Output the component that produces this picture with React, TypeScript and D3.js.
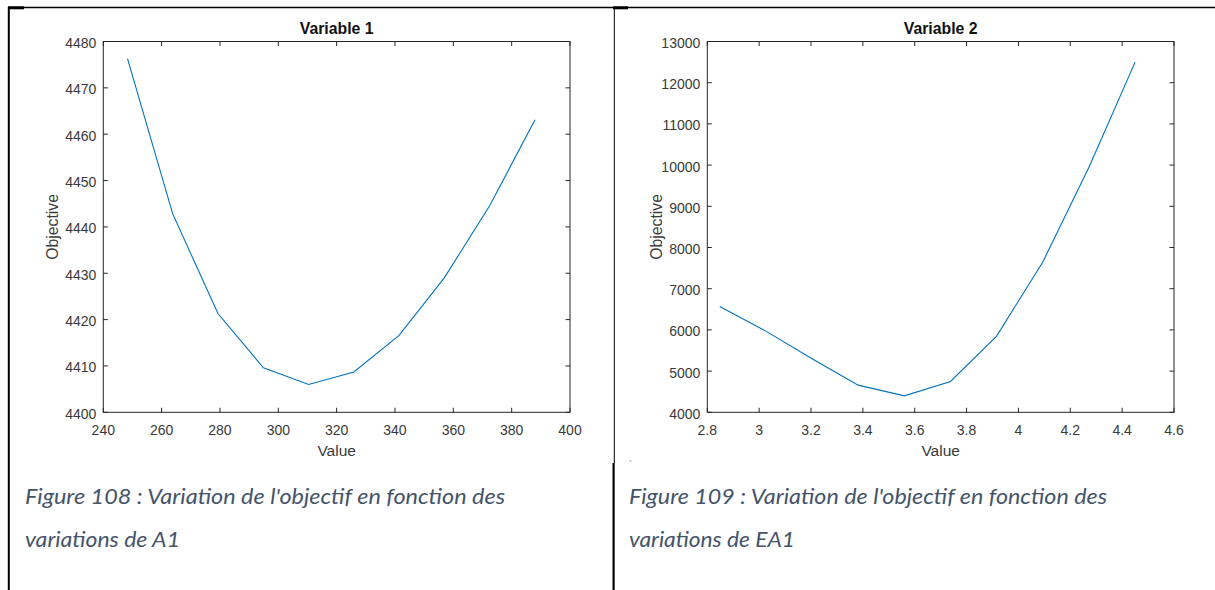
import React from "react";
import * as d3 from "d3";

// ---------- data ----------
const var1Values = [248.3, 263.8, 279.3, 294.9, 310.4, 325.9, 341.4, 356.9, 372.5, 388.0];
const var1Objective = [4476.3, 4442.8, 4421.3, 4409.6, 4406.0, 4408.7, 4416.6, 4429.0, 4444.6, 4463.1];
const var2Values = [2.848, 3.026, 3.204, 3.382, 3.56, 3.738, 3.916, 4.094, 4.272, 4.45];
const var2Objective = [6570, 5970, 5300, 4660, 4400, 4750, 5850, 7650, 9950, 12500];

const var1XTicks = [240, 260, 280, 300, 320, 340, 360, 380, 400];
const var1YTicks = [4400, 4410, 4420, 4430, 4440, 4450, 4460, 4470, 4480];
const var2XTicks = [2.8, 3, 3.2, 3.4, 3.6, 3.8, 4, 4.2, 4.4, 4.6];
const var2YTicks = [4000, 5000, 6000, 7000, 8000, 9000, 10000, 11000, 12000, 13000];

const titles = ["Variable 1", "Variable 2"];
const xLabel = "Value";
const yLabel = "Objective";
const captionLine1 = [
  "Figure 108 : Variation de l'objectif en fonction des",
  "Figure 109 : Variation de l'objectif en fonction des",
];
const captionLine2 = ["variations de A1", "variations de EA1"];

// ---------- layout ----------
const W = 1215;
const H = 590;
const AX = "#262626";
const TXT = "#3a3a3a";
const LINE = "#0072BD";
const CAP = "#44546A";
const FONT = "'Liberation Sans', Arial, Helvetica, sans-serif";

type PanelProps = {
  ox: number;
  xs: number[];
  ys: number[];
  xTicks: number[];
  yTicks: number[];
  title: string;
  cap1: string;
  cap2: string;
  cap1Len: number;
  cap2Len: number;
};

function Panel({ ox, xs, ys, xTicks, yTicks, title, cap1, cap2, cap1Len, cap2Len }: PanelProps) {
  const left = ox + 103.3;
  const right = ox + 570;
  const top = 41.5;
  const bottom = 412.3;
  const x = d3.scaleLinear().domain([xTicks[0], xTicks[xTicks.length - 1]]).range([left, right]);
  const y = d3.scaleLinear().domain([yTicks[0], yTicks[yTicks.length - 1]]).range([bottom, top]);
  const pts: [number, number][] = xs.map((v, i) => [v, ys[i]]);
  const path = d3
    .line<[number, number]>()
    .x((d) => x(d[0]))
    .y((d) => y(d[1]))(pts) as string;
  const tl = 4.5;
  const cx = (left + right) / 2;
  const cy = (top + bottom) / 2;
  return (
    <g>
      <text x={cx} y={34} textAnchor="middle" fontFamily={FONT} fontWeight="bold" fontSize={15.8} fill="#111">
        {title}
      </text>
      {/* ticks */}
      {xTicks.map((t, i) => (
        <g key={"xt" + i}>
          <line x1={x(t)} x2={x(t)} y1={bottom} y2={bottom - tl} stroke={AX} strokeWidth={1} />
          <line x1={x(t)} x2={x(t)} y1={top} y2={top + tl} stroke={AX} strokeWidth={1} />
          <text x={x(t)} y={434.5} textAnchor="middle" fontFamily={FONT} fontSize={14} fill={TXT}>
            {String(t)}
          </text>
        </g>
      ))}
      {yTicks.map((t, i) => (
        <g key={"yt" + i}>
          <line x1={left} x2={left + tl} y1={y(t)} y2={y(t)} stroke={AX} strokeWidth={1} />
          <line x1={right} x2={right - tl} y1={y(t)} y2={y(t)} stroke={AX} strokeWidth={1} />
          <text x={left - 7} y={y(t) + 6.5} textAnchor="end" fontFamily={FONT} fontSize={14} fill={TXT}>
            {String(t)}
          </text>
        </g>
      ))}
      <rect x={left} y={top} width={right - left} height={bottom - top} fill="none" stroke={AX} strokeWidth={1} />
      <path d={path} fill="none" stroke={LINE} strokeWidth={1.1} />
      <text x={cx} y={455.5} textAnchor="middle" fontFamily={FONT} fontSize={15.5} fill={TXT}>
        {xLabel}
      </text>
      <text
        transform={`translate(${ox + 57.5},${cy}) rotate(-90)`}
        textAnchor="middle"
        fontFamily={FONT}
        fontSize={15.8}
        fill={TXT}
      >
        {yLabel}
      </text>
      <text
        x={ox + 25}
        y={504}
        fontFamily="Lato, 'Open Sans', sans-serif"
        fontStyle="italic"
        fontSize={21}
        fill={CAP}
        textLength={cap1Len}
        lengthAdjust="spacingAndGlyphs"
      >
        {cap1}
      </text>
      <text
        x={ox + 25}
        y={547}
        fontFamily="Lato, 'Open Sans', sans-serif"
        fontStyle="italic"
        fontSize={21}
        fill={CAP}
        textLength={cap2Len}
        lengthAdjust="spacingAndGlyphs"
      >
        {cap2}
      </text>
    </g>
  );
}

export default function App() {
  return (
    <svg
      width={W}
      height={H}
      viewBox={`0 0 ${W} ${H}`}
      style={{ position: "absolute", left: 0, top: 0, background: "#fff" }}
    >
      <rect x={0} y={0} width={W} height={H} fill="#fff" />
      {/* page frame lines */}
      <line x1={8} x2={W} y1={7.5} y2={7.5} stroke="#000" strokeWidth={1.3} />
      <rect x={8} y={6.3} width={16} height={3} fill="#000" />
      <rect x={613} y={6.3} width={15} height={3} fill="#000" />
      <line x1={8.8} x2={8.8} y1={7} y2={H} stroke="#000" strokeWidth={2} />
      <line x1={614.3} x2={614.3} y1={7} y2={463} stroke="#000" strokeWidth={1} />
      <line x1={613.6} x2={613.6} y1={463} y2={H} stroke="#000" strokeWidth={2.2} />
      <rect x={629.5} y={460} width={2} height={2} fill="#c8c8c8" />

      <Panel
        ox={0}
        xs={var1Values}
        ys={var1Objective}
        xTicks={var1XTicks}
        yTicks={var1YTicks}
        title={titles[0]}
        cap1={captionLine1[0]}
        cap2={captionLine2[0]}
        cap1Len={480}
        cap2Len={155}
      />
      <Panel
        ox={604}
        xs={var2Values}
        ys={var2Objective}
        xTicks={var2XTicks}
        yTicks={var2YTicks}
        title={titles[1]}
        cap1={captionLine1[1]}
        cap2={captionLine2[1]}
        cap1Len={478}
        cap2Len={166}
      />
    </svg>
  );
}
